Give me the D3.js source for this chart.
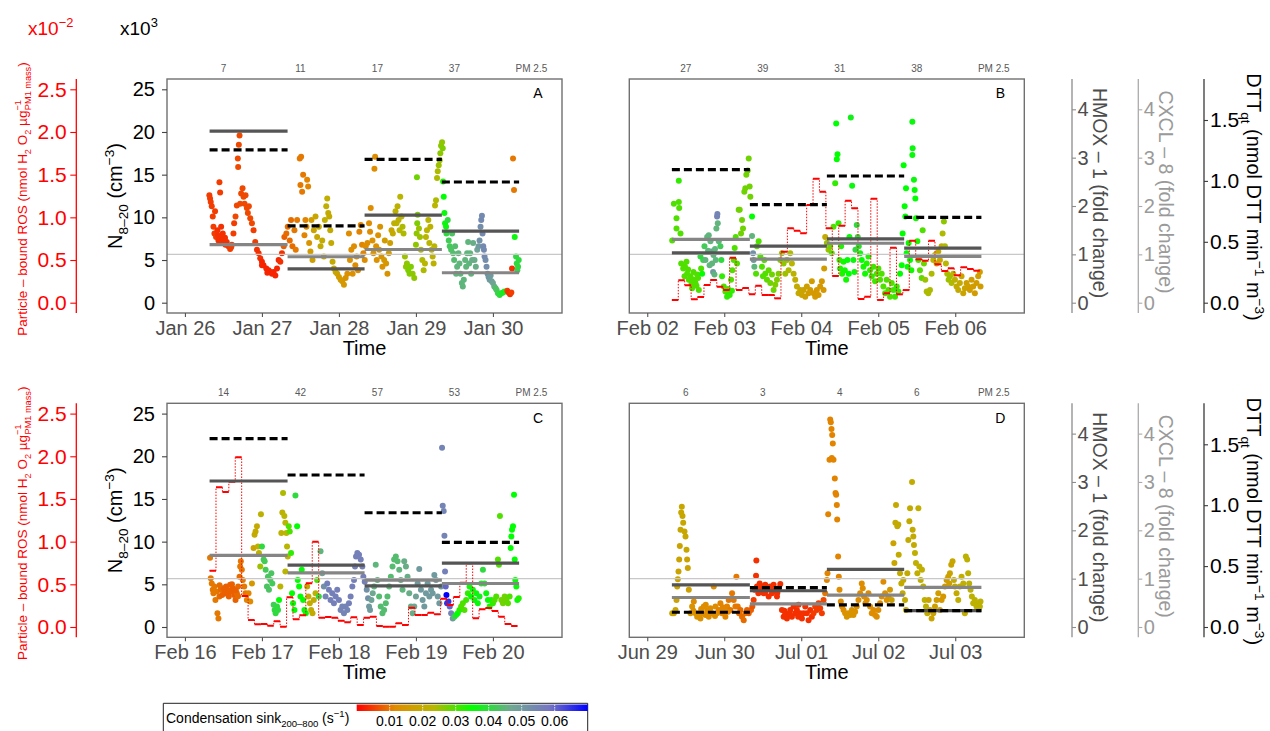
<!DOCTYPE html>
<html lang="en">
<head>
<meta charset="UTF-8">
<title>N8-20 with ROS, DTT, HMOX-1 and CXCL-8</title>
<script src="https://d3js.org/d3.v7.min.js"></script>
<style>
  body { margin: 0; background: #fff; }
  svg { font-family: "Liberation Sans", Arial, sans-serif; }
</style>
</head>
<body>
<div id="chart"></div>
<script>
// ---------- data ----------
const panelIds = ["A", "B", "C", "D"];
const startDays = ["2016-01-26", "2016-02-02", "2016-02-16", "2016-06-29"];

// daily sampling windows (days after the first labelled midnight)
const segDays = [0.32, 1.333, 2.333, 3.337, 4.34];
const pmDays = [0.5, 1.5, 2.5, 3.5, 4.5];

const pmA = ["7", "11", "17", "37", "PM 2.5"];
const pmB = ["27", "39", "31", "38", "PM 2.5"];
const pmC = ["14", "42", "57", "53", "PM 2.5"];
const pmD = ["6", "3", "4", "6", "PM 2.5"];

const hmoxA = [3.55, 0.70, 1.81, 1.48];
const cxclA = [1.20, 0.95, 1.10, 0.62];
const dttA  = [1.254, 0.630, 1.177, 0.991];
const hmoxB = [1.03, 1.17, 1.32, 1.13];
const cxclB = [1.31, 0.90, 1.23, 0.96];
const dttB  = [1.092, 0.805, 1.040, 0.701];
const hmoxC = [3.02, 1.28, 0.85, 1.32];
const cxclC = [1.48, 1.12, 0.97, 0.90];
const dttC  = [1.546, 1.248, 0.938, 0.695];
const hmoxD = [0.87, 0.75, 1.19, 0.34];
const cxclD = [0.61, 0.48, 0.66, 0.82];
const dttD  = [0.121, 0.323, 0.181, 0.134];

// particle-bound ROS, 2 h steps (x10^-2)
const rosStart = 0.32, rosStep = 2 / 24;
const rosB = [0.032,0.262,0.203,0.040,0.067,0.208,0.266,0.187,0.148,0.527,0.148,0.172,0.098,0.199,0.090,0.090,
  0.051,0.598,0.871,0.844,0.813,1.144,1.453,1.300,0.871,0.313,0.902,1.195,1.106,0.043,0.070,1.218,
  0.032,0.110,0.644,0.098,0.148,0.726,0.508,0.492,0.726,0.450,0.371,0.403,0.321,0.415,0.395,0.375];
const rosC = [0.660,1.636,1.581,1.702,1.988,0.363,0.082,0.031,0.035,0.016,0.066,0.004,0.348,0.090,0.137,0.512,
  1.000,0.109,0.117,0.109,0.074,0.055,0.113,0.023,0.109,0.121,0.012,0.004,0.004,0.043,0.023,0.226,
  0.141,0.141,0.168,0.148,0.332,0.258,0.351,0.519,0.746,0.102,0.207,0.223,0.187,0.121,0.035,0.012];

// N8-20 points: [day offset, N (x10^3 cm^-3), condensation sink (s^-1)]
const dotsA = [
  [.317,12.6,.005],[.326,12.2,.005],[.335,11.8,.005],[.348,11.3,.005],[.361,10.1,.005],[.37,8.9,.005],[.383,8.1,.005],[.391,10.7,.005],
  [.404,7.7,.005],[.422,8.5,.004],[.435,7.3,.004],[.448,14.1,.005],[.457,12.9,.005],[.465,7.7,.004],[.478,7.1,.004],[.491,8.1,.004],
  [.5,7.0,.004],[.513,7.5,.004],[.526,6.8,.004],[.543,7.1,.004],[.565,6.6,.004],[.587,6.3,.005],[.609,6.8,.005],[.63,8.1,.005],
  [.639,9.3,.005],[.657,10.1,.006],[.674,11.4,.006],[.687,16.9,.006],[.691,15.9,.006],[.70,18.5,.006],[.709,19.6,.006],[.717,11.6,.006],
  [.73,12.8,.006],[.748,13.4,.006],[.761,12.4,.006],[.774,11.6,.006],[.787,12.6,.006],[.804,11.1,.006],[.817,10.5,.006],[.83,11.3,.006],
  [.848,9.9,.006],[.87,9.3,.006],[.891,8.5,.005],[.913,7.1,.005],[.935,6.2,.004],[.957,5.8,.004],[.978,5.2,.004],[1.0,4.8,.003],
  [1.02,4.4,.003],[1.057,4.0,.003],[1.087,3.8,.003],[1.13,3.4,.003],[1.152,3.6,.003],[1.174,3.2,.003],[1.196,4.0,.003],[1.217,5.0,.003],
  [1.239,4.8,.004],[1.26,5.8,.004],[.43,7.9,.004],[.47,8.9,.004],[.52,7.6,.004],[.6,6.5,.005],[1.11,3.6,.003],[1.0,4.4,.003],[1.07,3.5,.003],
  [1.283,6.6,.008],[1.291,7.7,.008],[1.317,8.1,.009],[1.335,8.9,.009],[1.361,7.3,.009],[1.378,9.7,.009],[1.396,6.6,.009],[1.422,8.5,.01],
  [1.439,6.2,.01],[1.457,9.7,.01],[1.491,16.9,.01],[1.509,17.1,.01],[1.5,13.8,.01],[1.522,13.0,.01],[1.535,15.0,.01],[1.552,7.9,.011],
  [1.565,9.7,.011],[1.578,8.9,.012],[1.587,14.4,.011],[1.6,13.6,.011],[1.613,7.0,.014],[1.63,6.0,.016],[1.643,9.7,.016],[1.657,5.0,.017],
  [1.674,8.5,.018],[1.696,10.1,.019],[1.717,7.7,.019],[1.739,8.9,.02],[1.761,6.6,.02],[1.783,7.3,.02],[1.804,5.4,.02],[1.817,9.7,.021],
  [1.835,11.3,.021],[1.848,12.2,.021],[1.861,10.5,.02],[1.874,10.1,.02],[1.887,8.5,.02],[1.9,7.0,.02],[1.917,4.8,.02],[1.935,4.0,.02],
  [1.957,3.6,.02],[1.978,3.4,.018],[2.0,3.0,.016],[2.022,2.7,.016],[2.043,2.5,.015],[2.065,2.1,.015],[2.087,2.9,.014],[2.109,3.4,.013],
  [2.13,8.1,.012],[2.143,5.0,.013],[2.161,6.2,.012],[2.178,3.4,.013],[2.196,6.6,.012],[2.213,4.4,.012],[2.23,5.4,.012],[2.248,3.8,.012],
  [2.265,8.3,.011],[2.283,9.1,.011],[2.3,6.8,.011],[2.317,5.8,.011],
  [2.335,5.0,.012],[2.348,6.6,.012],[2.37,7.0,.012],[2.391,9.3,.012],[2.404,8.3,.012],[2.413,11.1,.012],[2.435,7.3,.013],[2.448,5.8,.013],
  [2.461,15.7,.012],[2.47,17.1,.012],[2.483,6.6,.013],[2.491,5.0,.013],[2.509,7.9,.013],[2.522,6.2,.014],[2.535,8.9,.014],[2.552,5.4,.014],
  [2.565,4.2,.014],[2.587,5.0,.015],[2.596,7.3,.016],[2.613,4.6,.015],[2.63,3.4,.014],[2.648,5.8,.016],[2.665,7.0,.017],[2.683,8.5,.018],
  [2.7,8.1,.02],[2.717,9.3,.021],[2.735,10.7,.022],[2.748,9.3,.022],[2.761,11.3,.022],[2.774,9.7,.022],[2.787,8.5,.023],[2.796,12.4,.023],
  [2.813,10.1,.023],[2.826,8.9,.024],[2.839,8.1,.024],[2.857,5.4,.025],[2.87,4.2,.026],[2.883,4.6,.026],[2.9,3.8,.027],[2.917,3.4,.027],
  [2.935,4.2,.027],[2.957,3.4,.026],[2.978,2.9,.026],[3.0,6.8,.026],[3.009,8.1,.026],[3.017,9.3,.027],[3.022,10.3,.027],[3.013,14.7,.028],
  [3.039,8.7,.025],[3.052,7.7,.025],[3.065,6.2,.024],[3.083,5.0,.024],[3.1,3.8,.024],[3.117,4.6,.023],[3.13,7.7,.023],[3.143,8.5,.023],
  [3.161,9.7,.023],[3.174,7.0,.023],[3.187,8.9,.022],[3.204,6.2,.022],[3.217,5.4,.022],[3.23,4.6,.022],[3.239,6.6,.023],[3.248,11.4,.023],
  [3.261,12.0,.024],[3.274,14.6,.024],[3.283,15.4,.024],[3.296,16.1,.025],[3.309,16.7,.025],[3.317,17.5,.026],[3.326,18.4,.026],
  [3.339,18.8,.026],[3.348,18.1,.027],
  [3.352,14.2,.033],[3.361,12.4,.035],[3.37,10.5,.036],[3.378,9.3,.036],[3.391,8.9,.036],[3.396,8.1,.04],[3.413,9.7,.04],[3.426,7.3,.042],
  [3.439,6.6,.042],[3.457,6.2,.043],[3.47,8.1,.043],[3.483,5.8,.044],[3.496,5.0,.044],[3.509,6.6,.044],[3.522,3.4,.045],[3.535,4.2,.045],
  [3.552,5.8,.045],[3.565,4.6,.045],[3.578,3.4,.045],[3.596,2.3,.045],[3.609,1.9,.045],[3.622,2.7,.045],[3.639,5.0,.045],[3.652,4.2,.045],
  [3.665,5.8,.045],[3.678,7.1,.045],[3.691,4.6,.045],[3.704,5.8,.045],[3.717,3.4,.045],[3.73,5.0,.046],[3.743,7.0,.046],[3.761,5.0,.046],
  [3.778,4.2,.046],[3.796,6.2,.048],[3.813,6.6,.05],[3.826,7.3,.052],[3.839,8.9,.053],[3.848,9.7,.054],[3.857,10.2,.054],[3.865,8.1,.054],
  [3.874,6.6,.054],[3.883,6.2,.054],[3.891,5.4,.054],[3.904,5.0,.053],[3.917,4.2,.053],[3.93,3.4,.052],[3.943,3.0,.051],[3.957,2.7,.05],
  [3.97,3.2,.05],[3.983,2.5,.049],[4.0,2.3,.048],[4.017,1.9,.046],[4.035,1.7,.044],[4.048,1.5,.043],[4.065,1.1,.041],[4.087,0.9,.04],
  [4.109,1.1,.039],[4.13,1.2,.038],[4.152,1.3,.037],[4.187,1.4,.005],[4.204,1.2,.004],[4.222,1.0,.004],[4.239,1.2,.005],[4.248,4.0,.004],
  [4.261,16.9,.01],[4.274,13.2,.01],[4.283,7.7,.036],[4.3,5.4,.04],[4.309,4.6,.04],[4.317,3.8,.042],[4.326,4.2,.04],[4.335,5.0,.04]
];
const dotsB = [
  [.324,7.3,.03],[.346,11.6,.03],[.38,9.9,.03],[.38,8.7,.03],[.41,14.3,.032],[.41,11.8,.03],[.415,11.1,.03],[.432,8.1,.03],
  [.441,4.6,.03],[.467,4.0,.03],[.484,3.1,.03],[.51,4.8,.03],[.518,3.4,.03],[.54,2.7,.03],[.562,3.1,.03],[.583,1.7,.03],
  [.605,2.7,.03],[.626,2.3,.03],[.648,3.3,.03],[.67,1.5,.03],[.691,5.4,.04],[.70,4.0,.03],[.713,3.4,.035],[.726,5.0,.04],
  [.743,6.6,.042],[.756,5.0,.045],[.778,7.7,.045],[.799,7.9,.045],[.821,7.2,.045],[.834,6.0,.05],[.842,4.6,.045],[.855,3.6,.05],
  [.873,3.3,.045],[.89,5.0,.045],[.898,8.7,.045],[.907,10.1,.055],[.911,10.4,.055],[.916,9.3,.045],[.929,7.2,.045],[.95,6.6,.042],
  [.963,5.0,.04],[.972,3.1,.032],[.994,1.9,.03],[1.015,1.3,.03],[1.037,0.7,.032],[1.058,1.1,.032],[1.071,0.9,.032],[1.089,2.7,.03],
  [1.106,3.8,.03],[1.123,5.0,.03],[1.136,6.4,.03],[1.149,7.7,.03],[1.166,4.6,.03],[1.188,10.9,.028],[1.201,10.9,.028],[1.218,8.1,.028],
  [1.231,9.7,.028],[1.244,8.7,.028],[1.261,13.0,.028],[1.274,13.4,.028],[1.287,15.0,.028],[1.305,15.5,.028],[1.318,16.9,.028],
  [1.33,13.6,.028],[1.339,12.4,.028],[.49,4.2,.03],[.53,3.9,.03],[.575,2.2,.03],[.6,3.6,.03],[.64,2.0,.03],[.66,2.9,.03],
  [.79,6.1,.045],[.81,4.4,.045],[.86,5.6,.045],[.88,6.3,.045],[1.05,1.6,.03],[1.1,1.4,.032],
  [1.361,10.1,.035],[1.361,7.8,.045],[1.374,5.8,.052],[1.382,5.0,.05],[1.391,4.2,.045],[1.413,3.4,.03],[1.425,6.6,.03],[1.447,7.2,.03],
  [1.469,5.4,.03],[1.49,4.2,.03],[1.503,3.1,.03],[1.521,5.0,.03],[1.533,3.4,.03],[1.555,2.7,.029],[1.577,3.8,.029],[1.598,2.3,.028],
  [1.62,3.3,.028],[1.641,1.5,.028],[1.663,2.1,.027],[1.685,2.7,.027],[1.706,3.4,.027],[1.728,5.0,.027],[1.749,5.8,.026],[1.771,4.6,.026],
  [1.793,3.4,.025],[1.814,5.0,.025],[1.836,3.8,.024],[1.857,5.8,.024],[1.879,4.6,.023],[1.901,3.4,.022],[1.922,2.7,.021],[1.944,1.9,.02],
  [1.965,1.1,.02],[1.987,1.5,.019],[2.009,0.9,.018],[2.03,1.5,.018],[2.052,0.7,.017],[2.073,1.9,.017],[2.095,1.1,.016],[2.117,1.5,.016],
  [2.138,2.5,.016],[2.16,1.1,.015],[2.181,0.7,.015],[2.203,1.5,.015],[2.225,0.9,.015],[2.246,1.9,.015],[2.268,2.5,.015],[2.29,1.5,.015],
  [2.298,4.0,.016],[2.311,7.7,.02],
  [2.333,7.0,.025],[2.354,6.2,.025],[2.376,6.6,.028],[2.397,5.8,.03],[2.419,8.9,.03],[2.441,14.0,.032],[2.454,21.0,.035],[2.462,16.8,.035],
  [2.471,17.4,.035],[2.484,9.3,.032],[2.497,5.0,.032],[2.505,4.0,.033],[2.518,6.6,.033],[2.531,3.4,.033],[2.549,4.8,.034],[2.566,3.8,.034],
  [2.583,2.7,.034],[2.6,5.0,.035],[2.618,3.4,.035],[2.626,7.7,.035],[2.644,21.7,.037],[2.661,13.7,.036],[2.678,5.0,.036],[2.691,3.6,.036],
  [2.704,6.2,.04],[2.721,9.1,.04],[2.734,7.7,.04],[2.747,6.6,.038],[2.765,5.8,.036],[2.786,5.0,.035],[2.808,4.2,.034],[2.829,3.4,.034],
  [2.851,4.6,.033],[2.873,5.4,.033],[2.894,3.8,.032],[2.916,3.1,.032],[2.937,4.2,.031],[2.959,2.5,.031],[2.981,3.4,.03],[3.002,4.0,.03],
  [3.024,2.7,.03],[3.045,3.4,.03],[3.067,1.9,.03],[3.089,1.1,.03],[3.11,2.7,.03],[3.132,1.5,.03],[3.153,0.7,.03],[3.175,2.3,.03],
  [3.197,1.5,.031],[3.218,0.7,.031],[3.24,1.9,.032],[3.261,1.3,.032],[3.283,3.4,.035],[3.305,4.4,.035],[3.317,8.1,.035],[3.33,16.1,.035],
  [3.343,11.3,.035],
  [3.352,10.1,.035],[3.361,13.4,.035],[3.369,5.8,.035],[3.382,4.2,.035],[3.395,7.0,.035],[3.413,5.0,.035],[3.43,3.8,.034],[3.443,21.2,.036],
  [3.447,18.1,.036],[3.443,17.3,.036],[3.464,14.4,.036],[3.473,13.2,.035],[3.482,12.2,.035],[3.49,9.9,.034],[3.508,7.2,.033],[3.521,5.0,.031],
  [3.542,3.8,.03],[3.564,2.9,.029],[3.577,8.5,.03],[3.594,4.6,.028],[3.611,2.7,.025],[3.629,1.3,.024],[3.65,1.1,.024],[3.672,1.5,.024],
  [3.693,3.4,.024],[3.715,5.0,.023],[3.737,5.6,.021],[3.758,4.6,.02],[3.78,6.0,.02],[3.801,5.0,.019],[3.823,6.6,.02],[3.836,8.1,.024],
  [3.853,9.5,.026],[3.866,6.6,.024],[3.879,4.6,.023],[3.896,3.4,.024],[3.914,2.7,.025],[3.931,3.1,.025],[3.952,2.3,.024],[3.974,3.4,.023],
  [3.996,2.7,.022],[4.017,1.9,.02],[4.039,1.5,.02],[4.06,2.3,.02],[4.082,3.1,.019],[4.104,1.1,.018],[4.125,1.7,.018],[4.147,2.3,.017],
  [4.168,1.9,.017],[4.19,1.5,.016],[4.212,2.7,.016],[4.233,1.9,.016],[4.255,1.1,.016],[4.276,2.3,.016],[4.298,3.1,.016],[4.32,3.6,.016],
  [4.328,1.9,.016]
];
const dotsC = [
  [.326,8.1,.01],[.335,5.7,.01],[.348,5.1,.01],[.361,4.35,.01],[.37,3.96,.01],[.383,4.74,.01],[.396,3.17,.01],[.413,4.15,.01],
  [.422,1.6,.01],[.435,1.0,.01],[.448,3.57,.009],[.465,4.35,.009],[.483,3.76,.008],[.5,4.55,.008],[.517,3.96,.008],[.535,4.74,.008],
  [.552,4.35,.008],[.57,3.57,.008],[.587,4.94,.008],[.604,4.15,.008],[.622,4.55,.008],[.639,3.76,.008],[.657,3.17,.008],[.674,3.96,.009],
  [.691,4.74,.009],[.709,5.9,.009],[.717,7.1,.01],[.726,7.7,.01],[.739,6.7,.01],[.752,5.5,.01],[.77,4.74,.01],[.787,3.96,.01],
  [.804,3.17,.011],[.826,3.96,.011],[.848,2.98,.012],[.87,5.1,.015],[.891,9.25,.018],[.904,10.8,.02],[.917,11.2,.02],[.935,11.8,.02],
  [.948,9.44,.021],[.961,8.66,.022],[.978,7.1,.025],[.987,13.2,.022],[1.0,9.44,.04],[1.022,7.9,.042],[1.035,7.7,.042],[1.048,6.7,.042],
  [1.065,4.74,.043],[1.078,5.9,.043],[1.091,4.35,.043],[1.109,5.5,.043],[1.122,6.3,.043],[1.135,5.1,.042],[1.152,2.6,.042],[1.165,2.0,.04],
  [1.178,1.6,.04],[1.196,2.4,.04],[1.209,2.0,.04],[1.222,3.17,.035],[1.239,4.74,.023],[1.252,11.0,.022],[1.265,13.4,.022],[1.274,15.7,.024],
  [1.291,13.0,.023],[1.304,12.2,.023],[1.317,11.0,.023],[1.326,9.44,.023],[1.304,6.5,.023],[1.335,8.27,.023],
  [.45,4.9,.009],[.52,4.3,.008],[.56,3.8,.008],[.61,5.0,.008],[.66,4.3,.008],[.69,3.6,.009],
  [1.348,11.8,.03],[1.361,11.2,.03],[1.378,8.66,.032],[1.391,3.96,.035],[1.404,2.78,.035],[1.422,2.0,.035],[1.435,15.4,.04],[1.457,11.8,.035],
  [1.465,5.5,.035],[1.483,4.74,.035],[1.5,3.57,.035],[1.517,6.7,.035],[1.535,3.17,.035],[1.552,2.0,.035],[1.57,1.6,.035],[1.587,4.74,.02],
  [1.604,3.57,.02],[1.622,2.78,.02],[1.639,2.0,.02],[1.657,1.6,.02],[1.674,3.17,.02],[1.696,3.96,.022],[1.717,5.5,.03],[1.739,3.57,.04],
  [1.761,8.86,.045],[1.783,6.3,.048],[1.804,4.74,.052],[1.826,3.57,.055],[1.848,5.1,.056],[1.87,4.35,.056],[1.891,3.17,.056],[1.913,3.96,.056],
  [1.935,2.78,.056],[1.957,3.57,.056],[1.978,4.35,.056],[2.0,3.17,.056],[2.022,2.0,.055],[2.043,2.4,.055],[2.065,1.6,.055],[2.087,2.4,.055],
  [2.109,2.0,.055],[2.13,2.78,.056],[2.152,3.57,.056],[2.174,4.74,.056],[2.196,5.5,.056],[2.209,7.1,.056],[2.222,8.27,.056],[2.239,8.66,.056],
  [2.261,8.46,.056],[2.283,7.9,.056],[2.304,7.1,.056],[2.317,5.9,.056],[2.335,5.3,.056],
  [2.361,4.35,.052],[2.378,3.37,.052],[2.391,2.4,.05],[2.404,2.0,.05],[2.422,3.17,.048],[2.439,3.96,.047],[2.457,4.74,.045],[2.478,7.3,.045],
  [2.5,5.5,.045],[2.522,3.57,.044],[2.543,2.4,.044],[2.565,1.6,.044],[2.587,2.0,.044],[2.609,2.78,.044],[2.63,3.57,.044],[2.652,4.74,.044],
  [2.674,5.9,.044],[2.696,7.1,.044],[2.717,7.9,.044],[2.739,8.27,.044],[2.761,7.7,.044],[2.783,6.7,.045],[2.804,5.5,.045],[2.826,4.35,.045],
  [2.848,7.7,.046],[2.87,7.1,.046],[2.891,5.9,.046],[2.913,3.96,.046],[2.935,2.4,.046],[2.957,1.6,.046],[2.978,2.4,.047],[3.0,3.57,.048],
  [3.022,5.1,.05],[3.043,6.8,.05],[3.065,4.35,.05],[3.087,3.17,.05],[3.109,2.4,.05],[3.13,3.96,.05],[3.152,5.1,.05],[3.174,3.57,.05],
  [3.196,4.35,.05],[3.217,3.96,.05],[3.239,6.1,.05],[3.261,5.5,.05],[3.283,3.57,.05],[3.304,2.78,.05],[3.326,4.74,.05],
  [3.339,21.0,.055],[3.348,14.2,.055],[3.361,13.6,.055],[3.37,10.7,.055],[3.378,6.5,.056],[3.387,4.74,.06],[3.396,3.76,.07],[3.404,2.78,.065],
  [3.422,2.98,.065],[3.439,2.4,.06],[3.457,1.6,.055],[3.478,1.0,.05],[3.5,1.2,.042],[3.522,1.4,.038],[3.543,1.6,.035],[3.565,2.0,.033],
  [3.587,2.4,.03],[3.609,2.78,.03],[3.63,2.0,.03],[3.652,3.17,.031],[3.674,3.96,.032],[3.696,4.74,.034],[3.717,3.57,.035],[3.739,4.35,.036],
  [3.761,3.17,.036],[3.783,3.96,.036],[3.804,2.78,.036],[3.826,3.57,.037],[3.848,5.1,.038],[3.87,6.7,.04],[3.891,5.1,.038],[3.913,3.96,.036],
  [3.935,3.17,.035],[3.957,2.4,.035],[3.978,3.17,.034],[4.0,2.78,.032],[4.022,3.17,.03],[4.043,3.57,.03],[4.065,7.9,.03],[4.078,7.3,.03],
  [4.091,13.0,.03],[4.109,3.17,.028],[4.13,2.78,.028],[4.152,3.57,.028],[4.174,3.17,.028],[4.196,2.78,.029],[4.217,3.57,.03],[4.23,9.25,.035],
  [4.239,10.6,.035],[4.248,11.4,.035],[4.261,11.8,.035],[4.274,15.5,.035],[4.283,7.9,.035],[4.291,5.5,.035],[4.304,4.74,.035],
  [4.317,3.17,.035],[4.335,3.37,.033]
];
const dotsD = [
  [.324,1.6,.018],[.346,1.6,.018],[.367,2.0,.018],[.38,3.17,.018],[.389,4.74,.018],[.397,5.6,.018],[.406,6.5,.018],[.415,7.9,.018],
  [.423,9.5,.018],[.432,11.4,.019],[.441,13.4,.019],[.449,14.1,.019],[.458,13.0,.019],[.467,12.2,.019],[.484,11.2,.019],[.497,10.6,.019],
  [.51,9.05,.019],[.518,7.9,.018],[.527,6.9,.018],[.54,4.35,.017],[.562,1.6,.015],[.583,2.4,.014],[.605,2.98,.012],[.626,1.6,.013],
  [.648,1.2,.013],[.67,1.6,.013],[.691,1.0,.013],[.713,1.6,.012],[.734,2.4,.012],[.756,1.4,.012],[.778,2.0,.012],[.799,1.2,.012],
  [.821,2.2,.012],[.842,1.6,.012],[.864,4.74,.012],[.886,2.4,.012],[.907,1.6,.012],[.929,2.0,.011],[.95,2.78,.011],[.972,1.6,.011],
  [.994,2.0,.011],[1.015,1.2,.011],[1.037,2.4,.011],[1.058,3.17,.01],[1.08,2.0,.01],[1.102,3.96,.01],[1.123,3.17,.01],[1.145,2.4,.01],
  [1.158,5.9,.01],[1.175,2.4,.01],[1.192,1.6,.009],[1.21,2.0,.009],[1.231,1.2,.009],[1.253,0.8,.009],[1.274,1.6,.009],[1.296,2.0,.008],
  [1.318,1.6,.008],[.6,1.9,.013],[.7,2.1,.012],[.76,2.6,.012],[.88,1.3,.012],[.98,2.3,.011],[1.05,1.8,.011],
  [1.348,2.0,.008],[1.365,2.4,.007],[1.382,3.17,.005],[1.395,4.35,.004],[1.413,6.0,.004],[1.417,7.8,.004],[1.425,4.74,.004],[1.443,3.96,.004],
  [1.46,5.1,.004],[1.477,4.35,.004],[1.495,4.74,.004],[1.512,3.96,.004],[1.533,4.94,.004],[1.555,4.35,.004],[1.577,3.57,.004],[1.598,4.74,.004],
  [1.62,3.96,.004],[1.641,4.94,.004],[1.663,4.15,.004],[1.685,3.57,.004],[1.706,4.55,.004],[1.728,5.05,.004],[1.749,2.0,.004],[1.771,1.2,.004],
  [1.793,1.6,.004],[1.814,1.0,.004],[1.836,1.4,.004],[1.857,2.0,.004],[1.879,1.2,.004],[1.901,2.4,.004],[1.922,1.6,.004],[1.944,2.0,.004],
  [1.965,2.6,.004],[1.987,1.6,.004],[2.009,1.0,.004],[2.03,1.6,.004],[2.052,2.4,.004],[2.073,1.6,.004],[2.095,0.8,.004],[2.117,2.0,.004],
  [2.138,1.2,.004],[2.16,1.6,.005],[2.181,2.4,.005],[2.203,2.0,.005],[2.225,2.78,.005],[2.246,2.2,.005],[2.268,1.6,.005],[2.29,3.17,.006],
  [2.311,3.96,.01],[1.45,4.2,.004],[1.53,4.0,.004],[1.61,4.4,.004],[1.69,4.0,.004],[1.78,1.9,.004],[1.85,1.6,.004],[1.96,1.2,.004],
  [2.333,5.5,.011],[2.341,6.3,.011],[2.35,13.2,.011],[2.367,19.6,.011],[2.376,24.3,.011],[2.384,24.0,.011],[2.393,23.2,.011],[2.402,22.5,.011],
  [2.41,21.5,.011],[2.397,19.8,.011],[2.419,19.6,.011],[2.436,17.4,.011],[2.445,15.7,.011],[2.454,15.5,.011],[2.462,14.3,.011],[2.467,12.6,.011],
  [2.479,8.27,.011],[2.488,5.9,.011],[2.497,4.35,.012],[2.514,2.98,.012],[2.531,2.4,.012],[2.549,2.0,.012],[2.57,1.6,.013],[2.592,1.2,.014],
  [2.613,1.6,.014],[2.635,1.4,.014],[2.657,2.0,.014],[2.678,1.4,.014],[2.7,1.8,.013],[2.721,2.4,.013],[2.743,3.17,.012],[2.765,3.96,.012],
  [2.786,5.1,.012],[2.799,4.55,.012],[2.816,3.57,.012],[2.834,2.78,.012],[2.851,3.17,.012],[2.873,3.96,.012],[2.894,2.4,.012],[2.916,1.6,.012],
  [2.937,2.0,.012],[2.959,1.4,.012],[2.981,1.2,.012],[3.002,2.0,.012],[3.024,2.78,.012],[3.045,3.57,.012],[3.067,5.3,.012],[3.089,3.96,.013],
  [3.11,3.17,.013],[3.132,3.57,.014],[3.153,4.35,.015],[3.175,3.17,.017],[3.197,9.8,.018],[3.21,7.5,.019],[3.223,12.2,.02],[3.231,14.3,.02],
  [3.248,11.8,.02],[3.261,12.0,.02],[3.266,8.46,.02],[3.283,6.3,.02],[3.3,5.1,.02],[3.317,3.96,.02],[3.326,5.5,.02],
  [3.348,3.17,.02],[3.361,2.0,.02],[3.378,6.3,.02],[3.391,10.2,.02],[3.404,12.4,.02],[3.413,13.9,.02],[3.439,17.0,.02],[3.447,11.4,.02],
  [3.456,10.6,.02],[3.464,9.6,.02],[3.477,8.66,.021],[3.49,7.5,.021],[3.508,6.3,.021],[3.521,13.9,.021],[3.534,7.1,.021],[3.551,5.5,.021],
  [3.568,6.7,.021],[3.585,4.74,.022],[3.603,3.17,.022],[3.62,2.4,.022],[3.637,1.6,.02],[3.655,3.17,.018],[3.672,2.0,.018],[3.693,1.0,.018],
  [3.715,1.6,.018],[3.737,2.4,.017],[3.758,3.17,.016],[3.78,3.96,.016],[3.801,2.0,.016],[3.823,3.17,.015],[3.844,3.57,.015],[3.866,4.74,.016],
  [3.888,5.5,.016],[3.909,5.9,.017],[3.922,5.1,.017],[3.931,6.3,.018],[3.948,7.3,.018],[3.965,7.7,.019],[3.983,5.5,.02],[3.996,4.74,.02],
  [4.017,3.96,.02],[4.039,3.17,.021],[4.06,4.74,.021],[4.082,5.9,.021],[4.104,5.1,.021],[4.125,1.6,.021],[4.138,8.27,.022],[4.155,7.9,.022],
  [4.168,6.3,.022],[4.181,5.1,.022],[4.199,4.35,.022],[4.216,3.57,.022],[4.233,2.78,.022],[4.255,3.17,.022],[4.276,2.4,.022],
  [4.298,2.78,.022],[4.32,2.4,.022],[4.328,2.98,.022]
];

// colour scale for condensation sink
const csStops  = [0, 0.0117, 0.0233, 0.035, 0.0467, 0.0583, 0.07];
const csColors = ["#ff0000", "#e08c00", "#b8b600", "#00ff00", "#6fa890", "#7676c2", "#0000ff"];
const csTicks  = [0.01, 0.02, 0.03, 0.04, 0.05, 0.06];

const nTicks = [0, 5, 10, 15, 20, 25];
const rosTicks = [0, 0.5, 1, 1.5, 2, 2.5];
const foldTicks = [0, 1, 2, 3, 4];
const dttTicks = [0, 0.5, 1, 1.5];

// ---------- layout ----------
const width = 1270, height = 731;
const W = 395, H = 234;
const colX = [167, 629.3];
const rowY = [79, 403.3];
const DAY = 864e5;
const parseDay = d3.timeParse("%Y-%m-%d");

const panels = [
  { id: "A", col: 0, row: 0, dots: dotsA, hmox: hmoxA, cxcl: cxclA, dtt: dttA, pm: pmA, ros: null },
  { id: "B", col: 1, row: 0, dots: dotsB, hmox: hmoxB, cxcl: cxclB, dtt: dttB, pm: pmB, ros: rosB },
  { id: "C", col: 0, row: 1, dots: dotsC, hmox: hmoxC, cxcl: cxclC, dtt: dttC, pm: pmC, ros: rosC },
  { id: "D", col: 1, row: 1, dots: dotsD, hmox: hmoxD, cxcl: cxclD, dtt: dttD, pm: pmD, ros: null }
];
panels.forEach((p, i) => { p.start = parseDay(startDays[i]); });

// shared y scales (local to a panel box)
const yN    = d3.scaleLinear().domain([-1.207, 26.207]).range([H, 0]);
const yRos  = d3.scaleLinear().domain([-0.1207, 2.6207]).range([H, 0]);
const yFold = d3.scaleLinear().domain([-0.213, 4.627]).range([H, 0]);
const yDtt  = d3.scaleLinear().domain([-0.0846, 1.8366]).range([H, 0]);
const color = d3.scaleLinear().domain(csStops).range(csColors).clamp(true);

const svg = d3.select("#chart").append("svg")
  .attr("width", width).attr("height", height);
const defs = svg.append("defs");

// text with sub/superscripts
function rich(text, parts, size) {
  let shift = 0;
  parts.forEach(part => {
    const [str, kind, dx] = typeof part === "string" ? [part, "n", 0] : part;
    const target = kind === "sup" ? -0.42 * size : kind === "sub" ? 0.28 * size : 0;
    const t = text.append("tspan").attr("dy", target - shift)
      .attr("font-size", kind === "n" ? size : size * 0.68).text(str);
    if (dx) t.attr("dx", dx);
    shift = target;
  });
  return text;
}

function styleAxis(g, lineColor, textColor, size) {
  g.selectAll("path").attr("stroke", lineColor).attr("stroke-width", 1.3);
  g.selectAll("line").attr("stroke", lineColor).attr("stroke-width", 1.1);
  g.selectAll("text").attr("fill", textColor).attr("font-size", size)
    .attr("font-family", "Liberation Sans, Arial, sans-serif");
}

panels.forEach(p => {
  const px = colX[p.col], py = rowY[p.row];
  const g = svg.append("g").attr("transform", `translate(${px},${py})`);
  const at = t => new Date(p.start.getTime() + t * DAY);
  const x = d3.scaleTime().domain([at(-0.233), at(4.897)]).range([0, W]);

  defs.append("clipPath").attr("id", "clip" + p.id)
    .append("rect").attr("width", W).attr("height", H);
  const plot = g.append("g").attr("clip-path", `url(#clip${p.id})`);

  // points
  plot.append("g").selectAll("circle").data(p.dots).join("circle")
    .attr("cx", d => x(at(d[0])))
    .attr("cy", d => yN(d[1]))
    .attr("r", 3)
    .attr("fill", d => color(d[2]));

  // fold-change = 1 reference
  plot.append("line")
    .attr("x1", 0).attr("x2", W)
    .attr("y1", yFold(1)).attr("y2", yFold(1))
    .attr("stroke", "#c8c8c8").attr("stroke-width", 1.3);

  // particle-bound ROS step trace
  if (p.ros) {
    const pts = p.ros.map((v, i) => [rosStart + i * rosStep, v]);
    pts.push([rosStart + p.ros.length * rosStep, p.ros[p.ros.length - 1]]);
    const step = d3.line().x(d => x(at(d[0]))).y(d => yRos(d[1])).curve(d3.curveStepAfter);
    plot.append("path").attr("d", step(pts))
      .attr("fill", "none").attr("stroke", "#ff0000")
      .attr("stroke-width", 1).attr("stroke-dasharray", "1.5,1.5");
    plot.append("g").selectAll("line").data(p.ros).join("line")
      .attr("x1", (d, i) => x(at(rosStart + i * rosStep)))
      .attr("x2", (d, i) => x(at(rosStart + (i + 1) * rosStep)))
      .attr("y1", d => yRos(d)).attr("y2", d => yRos(d))
      .attr("stroke", "#ff0000").attr("stroke-width", 2);
  }

  // daily bars
  function segs(values, yScale, stroke, dash) {
    plot.append("g").selectAll("line").data(values).join("line")
      .attr("x1", (d, i) => x(at(segDays[i])))
      .attr("x2", (d, i) => x(at(segDays[i + 1])))
      .attr("y1", d => yScale(d)).attr("y2", d => yScale(d))
      .attr("stroke", stroke).attr("stroke-width", 3.2)
      .attr("stroke-dasharray", dash || null);
  }
  segs(p.cxcl, yFold, "#858585");
  segs(p.hmox, yFold, "#555555");
  segs(p.dtt, yDtt, "#000000", "8,4");

  // frame
  g.append("rect").attr("width", W).attr("height", H)
    .attr("fill", "none").attr("stroke", "#707070").attr("stroke-width", 1.4);

  // x axis
  const xa = g.append("g").attr("transform", `translate(0,${H})`)
    .call(d3.axisBottom(x).ticks(d3.timeDay.every(1))
      .tickFormat(d3.timeFormat("%b %d")).tickSize(4).tickPadding(4).tickSizeOuter(0));
  xa.select(".domain").remove();
  styleAxis(xa, "#555", "#4d4d4d", 20);

  g.append("text").attr("x", W / 2).attr("y", H + 42)
    .attr("text-anchor", "middle").attr("font-size", 20).attr("fill", "#000").text("Time");

  // PM2.5 labels on top
  g.append("g").selectAll("text").data(p.pm).join("text")
    .attr("x", (d, i) => x(at(pmDays[i]))).attr("y", -7.3)
    .attr("text-anchor", "middle").attr("font-size", 10).attr("fill", "#595959")
    .text(d => d);

  g.append("text").attr("x", 371).attr("y", 19.3)
    .attr("text-anchor", "middle").attr("font-size", 14).attr("fill", "#000").text(p.id);

  if (p.col === 0) {
    // N8-20 axis
    const ya = g.append("g").call(d3.axisLeft(yN).tickValues(nTicks).tickFormat(d3.format("d"))
      .tickSize(5).tickPadding(7).tickSizeOuter(0));
    ya.select(".domain").remove();
    styleAxis(ya, "#444", "#000", 20);

    // ROS axis
    const ra = svg.append("g").attr("transform", `translate(76.3,${py})`)
      .call(d3.axisLeft(yRos).tickValues(rosTicks).tickFormat(d3.format(".1f"))
        .tickSize(6).tickPadding(3.5).tickSizeOuter(0));
    styleAxis(ra, "#ff0000", "#ff0000", 21);
    ra.select(".domain").attr("d", `M0,0V${H}`);

    rich(svg.append("text")
      .attr("transform", `translate(27,${py + 120}) rotate(-90)`)
      .attr("text-anchor", "middle").attr("fill", "#ff0000"),
      ["Particle \u2013 bound ROS (nmol H", ["2", "sub"], " O", ["2", "sub"], " \u00b5g",
       ["\u22121", "sup"], ["PM1 mass", "sub", -10], ")"], 13.5);

    rich(svg.append("text")
      .attr("transform", `translate(122,${py + 117}) rotate(-90)`)
      .attr("text-anchor", "middle").attr("fill", "#000"),
      ["N", ["8\u201320", "sub"], " (cm", ["\u22123", "sup"], ")"], 20);
  } else {
    // HMOX-1 axis
    const ha = svg.append("g").attr("transform", `translate(1072,${py})`)
      .call(d3.axisRight(yFold).tickValues(foldTicks).tickFormat(d3.format("d"))
        .tickSize(4).tickPadding(1.5).tickSizeOuter(0));
    styleAxis(ha, "#8c8c8c", "#4d4d4d", 20);
    ha.select(".domain").attr("d", `M0,0V${H}`);
    svg.append("text").attr("transform", `translate(1093,${py + 114}) rotate(90)`)
      .attr("text-anchor", "middle").attr("font-size", 19.5).attr("fill", "#4d4d4d")
      .text("HMOX \u2013 1 (fold change)");

    // CXCL-8 axis
    const ca = svg.append("g").attr("transform", `translate(1138.3,${py})`)
      .call(d3.axisRight(yFold).tickValues(foldTicks).tickFormat(d3.format("d"))
        .tickSize(4).tickPadding(1.5).tickSizeOuter(0));
    styleAxis(ca, "#ababab", "#9a9a9a", 20);
    ca.select(".domain").attr("d", `M0,0V${H}`);
    svg.append("text").attr("transform", `translate(1159,${py + 113}) rotate(90)`)
      .attr("text-anchor", "middle").attr("font-size", 19.5).attr("fill", "#9a9a9a")
      .text("CXCL \u2013 8 (fold change)");

    // DTT axis
    const da = svg.append("g").attr("transform", `translate(1204,${py})`)
      .call(d3.axisRight(yDtt).tickValues(dttTicks).tickFormat(d3.format(".1f"))
        .tickSize(4).tickPadding(2).tickSizeOuter(0));
    styleAxis(da, "#3a3a3a", "#000", 21);
    da.select(".domain").attr("d", `M0,0V${H}`);
    rich(svg.append("text")
      .attr("transform", `translate(1247,${py + 118}) rotate(90)`)
      .attr("text-anchor", "middle").attr("fill", "#000"),
      ["DTT", ["qt", "sub"], " (nmol DTT min", ["\u22121", "sup"], " m", ["\u22123", "sup"], ")"], 20);
  }
});

// scale multipliers
rich(svg.append("text").attr("x", 28).attr("y", 35).attr("fill", "#ff0000"),
  ["x10", ["\u22122", "sup"]], 19);
rich(svg.append("text").attr("x", 120).attr("y", 35).attr("fill", "#000"),
  ["x10", ["3", "sup"]], 19);

// ---------- colour legend ----------
const csX = d3.scaleLinear().domain([0, 0.07]).range([356.7, 587.7]);
const grad = defs.append("linearGradient").attr("id", "csGrad");
csStops.forEach((s, i) => grad.append("stop").attr("offset", s / 0.07).attr("stop-color", csColors[i]));

const leg = svg.append("g");
leg.append("path").attr("d", "M163.3,731V703.3H587.7V731")
  .attr("fill", "none").attr("stroke", "#222").attr("stroke-width", 1);
leg.append("rect").attr("x", csX(0)).attr("y", 704.5).attr("width", csX(0.07) - csX(0)).attr("height", 6.5)
  .attr("fill", "url(#csGrad)");
leg.selectAll(".cstick").data(csTicks).join("line")
  .attr("x1", d => csX(d)).attr("x2", d => csX(d))
  .attr("y1", 704.5).attr("y2", 711)
  .attr("stroke", "#fff").attr("stroke-opacity", 0.8).attr("stroke-dasharray", "1.5,1");
leg.selectAll(".cslab").data(csTicks).join("text")
  .attr("x", d => csX(d)).attr("y", 726)
  .attr("text-anchor", "middle").attr("font-size", 14).attr("fill", "#000")
  .text(d3.format(".2f"));
rich(leg.append("text").attr("x", 166).attr("y", 723).attr("fill", "#000"),
  ["Condensation sink", ["200\u2013800", "sub"], " (s", ["\u22121", "sup"], ")"], 14);
</script>
</body>
</html>
